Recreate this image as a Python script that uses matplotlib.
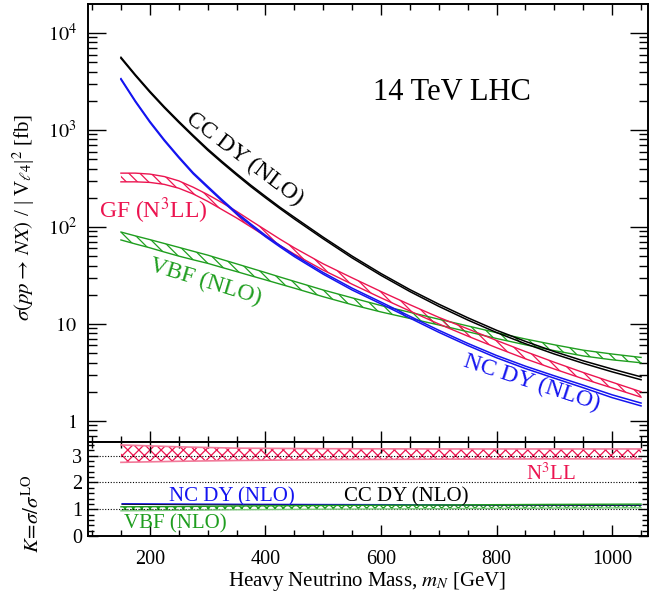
import matplotlib
matplotlib.use("Agg")
import numpy as np
import matplotlib.pyplot as plt
from matplotlib.ticker import MultipleLocator, FixedLocator, FixedFormatter, LogLocator, NullFormatter

plt.rcParams['font.family'] = ['Liberation Serif', 'DejaVu Serif']
plt.rcParams['mathtext.fontset'] = 'stix'
plt.rcParams['hatch.linewidth'] = 0.9

# ---------------- data ----------------
mass = [150, 175, 200, 225, 250, 275, 300, 325, 350, 375, 400, 425, 450,
        500, 550, 600, 650, 700, 750, 800, 850, 900, 950, 1000, 1050]

# CC DY (NLO) band [fb]
cc_hi = [5623, 3715, 2512, 1738, 1230, 881, 638, 473, 355, 269, 207, 160, 126,
         78.5, 50.1, 33.1, 22.6, 16.0, 11.6, 8.61, 6.61, 5.19, 4.17, 3.43, 2.85]
cc_lo = [5490, 3630, 2449, 1694, 1197, 857, 619, 459, 344, 260, 200, 155, 121,
         75.5, 48.0, 31.7, 21.6, 15.2, 11.0, 8.16, 6.25, 4.90, 3.93, 3.21, 2.66]

# NC DY (NLO) band [fb]
nc_hi = [3388, 1995, 1230, 794, 531, 363, 263, 191, 141, 107, 82.2, 64.6, 51.3,
         33.9, 23.4, 16.8, 12.0, 8.61, 6.31, 4.73, 3.67, 2.92, 2.34, 1.86, 1.53]
nc_lo = [3310, 1949, 1199, 774, 517, 353, 255, 185, 136.5, 103.6, 79.4, 62.4, 49.5,
         32.6, 22.4, 16.1, 11.5, 8.21, 6.00, 4.48, 3.47, 2.76, 2.20, 1.74, 1.43]

# GF (N3LL) band [fb]
gf_hi = [359, 359, 351, 331, 299, 257, 216, 178, 145, 116, 93.3, 75.0, 61.0,
         41.7, 29.9, 21.6, 15.8, 11.7, 8.91, 6.76, 5.19, 4.03, 3.16, 2.51, 2.00]
gf_lo = [292, 292, 288, 275, 251, 219, 184, 151, 124, 100, 80.4, 64.6, 52.5,
         35.9, 25.7, 18.6, 13.6, 10.0, 7.50, 5.69, 4.37, 3.43, 2.72, 2.19, 1.76]

# VBF (NLO) band [fb]
vbf_hi = [88.7, 80.9, 74.1, 67.6, 61.7, 56.2, 51.3, 46.2, 41.7, 37.6, 33.9, 30.5, 27.5,
          22.4, 18.6, 15.5, 13.2, 11.2, 9.55, 8.13, 7.0, 6.1, 5.37, 4.9, 4.52]
vbf_lo = [73.5, 66.8, 61.0, 55.2, 50.1, 45.9, 42.2, 38.2, 34.7, 31.4, 28.5, 25.8, 23.4,
          19.1, 15.8, 13.3, 11.4, 9.77, 8.32, 7.08, 6.1, 5.31, 4.68, 4.27, 3.98]

# K-factors
k_mass = [150, 250, 350, 500, 700, 900, 1050]
gf_k_hi = [3.40, 3.33, 3.28, 3.26, 3.25, 3.25, 3.25]
gf_k_lo = [2.75, 2.79, 2.82, 2.85, 2.87, 2.88, 2.88]
nc_k_hi = [1.25, 1.24, 1.23, 1.22, 1.21, 1.20, 1.19]
nc_k_lo = [1.20, 1.19, 1.18, 1.17, 1.16, 1.16, 1.15]
cc_k_hi = [1.22, 1.21, 1.20, 1.19, 1.18, 1.18, 1.17]
cc_k_lo = [1.18, 1.17, 1.16, 1.16, 1.15, 1.15, 1.14]
vbf_k_hi = [1.09, 1.10, 1.12, 1.14, 1.16, 1.18, 1.19]
vbf_k_lo = [0.94, 0.96, 0.98, 1.00, 1.02, 1.04, 1.05]

y_ticks = [1, 10, 100, 1000, 10000]
y_ticklabels = [r'$1$', r'$10$', r'$10^2$', r'$10^3$', r'$10^4$']
k_ticks = [0, 1, 2, 3]
x_ticks = [200, 400, 600, 800, 1000]

# ---------------- style ----------------
BLACK = '#000000'
BLUE = '#1414f0'
RED = '#ec1450'
GREEN = '#1f9e1f'
W, H = 651, 606

fig = plt.figure(figsize=(W / 100, H / 100), dpi=100)
ax = fig.add_axes([88 / W, 1 - 442 / H, 560 / W, 438 / H])
axk = fig.add_axes([88 / W, 1 - 536 / H, 560 / W, 94 / H])

# main panel
ax.set_yscale('log')
ax.fill_between(mass, vbf_lo, vbf_hi, facecolor='none', edgecolor=GREEN,
                hatch='\\\\\\', linewidth=0)
ax.plot(mass, vbf_hi, color=GREEN, lw=1.0)
ax.plot(mass, vbf_lo, color=GREEN, lw=1.0)
ax.fill_between(mass, gf_lo, gf_hi, facecolor='none', edgecolor=RED,
                hatch='\\\\\\', linewidth=0)
ax.plot(mass, gf_hi, color=RED, lw=1.0)
ax.plot(mass, gf_lo, color=RED, lw=1.0)
ax.plot(mass, nc_hi, color=BLUE, lw=1.1)
ax.plot(mass, nc_lo, color=BLUE, lw=1.1)
ax.plot(mass, cc_hi, color=BLACK, lw=1.1)
ax.plot(mass, cc_lo, color=BLACK, lw=1.1)

ax.set_xlim(93, 1062)
ax.set_ylim(0.607, 19900)
ax.yaxis.set_major_locator(FixedLocator(y_ticks))
ax.yaxis.set_major_formatter(FixedFormatter(y_ticklabels))
ax.yaxis.set_minor_locator(LogLocator(base=10, subs=np.arange(2, 10), numticks=20))
ax.yaxis.set_minor_formatter(NullFormatter())
ax.xaxis.set_major_locator(FixedLocator(x_ticks))
ax.xaxis.set_minor_locator(MultipleLocator(50))
ax.tick_params(axis='both', which='both', direction='in', top=True, right=True,
               labelbottom=False, width=1.0, labelsize=14.5)
ax.tick_params(axis='y', which='major', length=13, pad=8)
ax.tick_params(axis='y', which='minor', length=6.5)
ax.tick_params(axis='x', which='major', length=8)
ax.tick_params(axis='x', which='minor', length=4.3)

# K panel
for yv in (1, 2, 3):
    axk.axhline(yv, color='k', lw=0.8, ls=(0, (1, 1.5)))
axk.fill_between(k_mass, gf_k_lo, gf_k_hi, facecolor='white', edgecolor=RED,
                 hatch='xxx', linewidth=0)
axk.plot(k_mass, gf_k_hi, color='#f27a9a', lw=1.2)
axk.plot(k_mass, gf_k_lo, color='#f27a9a', lw=1.2)
axk.fill_between(k_mass, vbf_k_lo, vbf_k_hi, facecolor='white', edgecolor=GREEN,
                 hatch='xxxx', linewidth=0)
axk.plot(k_mass, vbf_k_hi, color=GREEN, lw=1.0)
axk.plot(k_mass, vbf_k_lo, color='#7cc87c', lw=1.0)
axk.fill_between(k_mass, nc_k_lo, nc_k_hi, color=BLUE, linewidth=0)
axk.fill_between(k_mass, cc_k_lo, cc_k_hi, color='#101040', linewidth=0)

axk.set_xlim(93, 1062)
axk.set_ylim(0, 3.51)
axk.yaxis.set_major_locator(FixedLocator(k_ticks))
axk.yaxis.set_minor_locator(MultipleLocator(0.2))
axk.xaxis.set_major_locator(FixedLocator(x_ticks))
axk.xaxis.set_minor_locator(MultipleLocator(50))
axk.tick_params(axis='both', which='both', direction='in', top=True, right=True,
                width=1.0, labelsize=14.5)
axk.tick_params(axis='y', which='major', length=7, pad=4)
axk.tick_params(axis='y', which='minor', length=4)
axk.tick_params(axis='x', which='major', length=8, pad=10)
axk.tick_params(axis='x', which='minor', length=4.3)

for a in (ax, axk):
    for s in a.spines.values():
        s.set_linewidth(1.4)


def ftxt(x, y, s, **kw):
    fig.text(x / W, 1 - y / H, s, ha='center', va='center',
             rotation_mode='anchor', **kw)


# labels
ftxt(24, 217, r'$\sigma(pp\rightarrow\,NX)$ / | V$_{\ell 4}$|$^2$ [fb]',
     rotation=90, fontsize=15)
ftxt(33, 514, r'$K\!=\!\sigma/\sigma^{\rm LO}$', rotation=90, fontsize=15)
fig.text(367 / W, 1 - 586 / H, 'Heavy Neutrino Mass, $m_N$ [GeV]',
         ha='center', va='baseline', fontsize=15)

ftxt(452, 92, '14 TeV LHC', fontsize=22)
ftxt(245, 159, 'CC DY (NLO)', rotation=-37, fontsize=17, color=BLACK)
ftxt(153, 211, 'GF (N$^3$LL)', fontsize=17, color=RED)
ftxt(205, 282, 'VBF (NLO)', rotation=-17, fontsize=17, color=GREEN)
ftxt(532, 383, 'NC DY (NLO)', rotation=-18, fontsize=17, color=BLUE)

ftxt(551, 474, 'N$^3$LL', fontsize=15, color=RED)
ftxt(232, 497, 'NC DY (NLO)', fontsize=15, color=BLUE)
ftxt(406, 497, 'CC DY (NLO)', fontsize=15, color=BLACK)
ftxt(175, 524, 'VBF (NLO)', fontsize=15, color=GREEN)

fig.savefig('out.png', dpi=100)
